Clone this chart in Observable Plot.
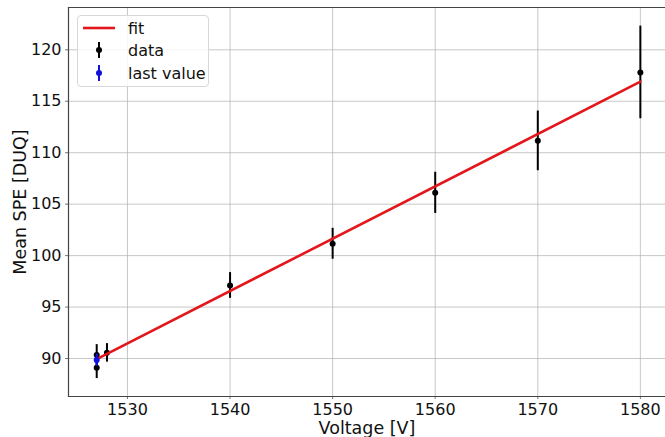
<!DOCTYPE html>
<html>
<head>
<meta charset="utf-8">
<script src="https://cdn.jsdelivr.net/npm/d3@7"></script>
<script src="https://cdn.jsdelivr.net/npm/@observablehq/plot@0.6"></script>
<style>
  html, body { margin: 0; padding: 0; background: #fff; }
  #wrap { position: relative; width: 665px; height: 437px; font-family: "DejaVu Sans", sans-serif; }
  #legend { position: absolute; left: 77px; top: 15px; width: 132px; height: 72px;
    border: 1px solid #d8d8d8; border-radius: 4px; background: rgba(255,255,255,0.85); box-sizing: border-box; }
  .row { position: absolute; left: 0; height: 22px; display: flex; align-items: center; font-size: 16px; color: #111; }
  .row svg { margin-left: 4px; margin-right: 12px; }
</style>
</head>
<body>
<div id="wrap"></div>
<script>
// Data
const voltages = [1527, 1527, 1528, 1540, 1550, 1560, 1570, 1580];
const meanSPE  = [90.35, 89.1, 90.55, 97.1, 101.15, 106.1, 111.15, 117.8];
const errors   = [1.0, 1.05, 0.9, 1.25, 1.5, 2.0, 2.9, 4.5];
const lastVoltage = [1527];
const lastSPE = [89.85];
const lastErr = [0.6];
const fitVoltage = [1527, 1580];
const fitSPE = [89.95, 116.9];
const xTicks = [1530, 1540, 1550, 1560, 1570, 1580];
const yTicks = [90, 95, 100, 105, 110, 115, 120];
const xLabel = "Voltage [V]";
const yLabel = "Mean SPE [DUQ]";
const legendLabels = ["fit", "data", "last value"];

const data = voltages.map((v, i) => ({x: v, y: meanSPE[i], e: errors[i]}));
const last = lastVoltage.map((v, i) => ({x: v, y: lastSPE[i], e: lastErr[i]}));
const fit = fitVoltage.map((v, i) => ({x: v, y: fitSPE[i]}));

const chart = Plot.plot({
  width: 665,
  height: 437,
  marginLeft: 68,
  marginRight: 0,
  marginTop: 7,
  marginBottom: 41,
  style: {fontFamily: "DejaVu Sans, sans-serif", fontSize: "16px", color: "#111", background: "#fff"},
  x: {domain: [1524.25, 1582.45]},
  y: {domain: [86.31, 124.11]},
  marks: [
    Plot.gridX(xTicks, {stroke: "#b0b0b0", strokeOpacity: 0.7, strokeWidth: 1}),
    Plot.gridY(yTicks, {stroke: "#b0b0b0", strokeOpacity: 0.7, strokeWidth: 1}),
    Plot.axisX(xTicks, {tickSize: 3, tickPadding: 4, stroke: "#777", fill: "#111", fontSize: 16, label: null, tickFormat: d => String(d)}),
    Plot.axisY(yTicks, {tickSize: 3, tickPadding: 4, stroke: "#777", fill: "#111", fontSize: 16, label: null, tickFormat: d => String(d)}),
    Plot.frame({anchor: "top", stroke: "#444", strokeWidth: 1.2}),
    Plot.frame({anchor: "left", stroke: "#444", strokeWidth: 1.2}),
    Plot.frame({anchor: "bottom", stroke: "#444", strokeWidth: 1.2}),
    Plot.ruleX(data, {x: "x", y1: d => d.y - d.e, y2: d => d.y + d.e, stroke: "#000", strokeWidth: 2}),
    Plot.dot(data, {x: "x", y: "y", r: 3, fill: "#000", stroke: null}),
    Plot.line(fit, {x: "x", y: "y", stroke: "#e3161b", strokeWidth: 2.6}),
    Plot.ruleX(last, {x: "x", y1: d => d.y - d.e, y2: d => d.y + d.e, stroke: "#1010e0", strokeWidth: 2}),
    Plot.dot(last, {x: "x", y: "y", r: 3, fill: "#1010e0", stroke: null}),
    Plot.text([xLabel], {frameAnchor: "bottom", dy: 32, fontSize: 17.5, fill: "#111", lineAnchor: "middle"}),
    Plot.text([yLabel], {frameAnchor: "left", dx: -48, rotate: -90, fontSize: 17.5, fill: "#111", lineAnchor: "middle", textAnchor: "middle"})
  ]
});

const wrap = document.getElementById("wrap");
wrap.appendChild(chart);

// Legend
const legend = document.createElement("div");
legend.id = "legend";
const markers = [
  `<svg width="34" height="16"><line x1="1" x2="33" y1="8" y2="8" stroke="#e3161b" stroke-width="2.6"/></svg>`,
  `<svg width="34" height="20"><line x1="17" x2="17" y1="2" y2="18" stroke="#000" stroke-width="2"/><circle cx="17" cy="10" r="3" fill="#000"/></svg>`,
  `<svg width="34" height="20"><line x1="17" x2="17" y1="2" y2="18" stroke="#1010e0" stroke-width="2"/><circle cx="17" cy="10" r="3" fill="#1010e0"/></svg>`
];
const tops = [1, 23, 46];
legendLabels.forEach((lab, i) => {
  const row = document.createElement("div");
  row.className = "row";
  row.style.top = tops[i] + "px";
  row.innerHTML = markers[i] + `<span>${lab}</span>`;
  legend.appendChild(row);
});
wrap.appendChild(legend);
</script>
</body>
</html>
